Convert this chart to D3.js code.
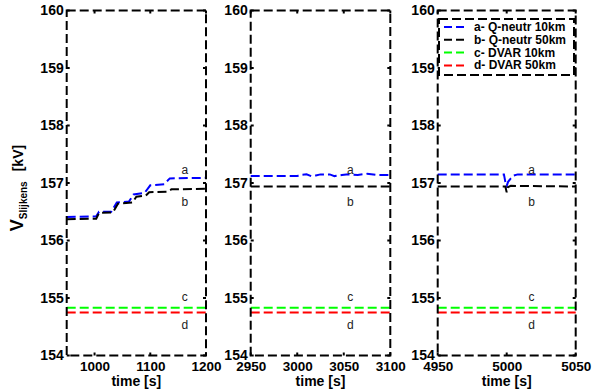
<!DOCTYPE html>
<html><head><meta charset="utf-8">
<script src="https://cdn.jsdelivr.net/npm/d3@7"></script>
<style>body{margin:0;background:#fff}svg{display:block}</style>
</head><body>
<script>
// ---- data ----
const yDomain = [154, 160];
const yTicks = [154, 155, 156, 157, 158, 159, 160];
const panelDomains = [[950, 1200], [2950, 3100], [4950, 5050]];
const panelTicks = [[1000, 1100, 1200], [2950, 3000, 3050, 3100], [4950, 5000, 5050]];
const seriesNames = ["a- Q-neutr 10km", "b- Q-neutr 50km", "c- DVAR 10km", "d- DVAR 50km"];
const seriesColors = ["#0000ff", "#000000", "#00ff00", "#ff0000"];
// panel 1 (t, V)
const p1a = [[950,156.41],[1003,156.42],[1008,156.50],[1030,156.50],[1040,156.66],[1062,156.68],[1070,156.80],[1090,156.83],[1100,156.96],[1125,156.98],[1135,157.08],[1200,157.09]];
const p1b = [[950,156.37],[1003,156.38],[1008,156.48],[1033,156.49],[1042,156.64],[1068,156.66],[1075,156.76],[1092,156.78],[1098,156.84],[1130,156.85],[1138,156.89],[1200,156.90]];
const p1c = [[950,154.83],[1200,154.83]];
const p1d = [[950,154.75],[1200,154.75]];
// panel 2
const p2a = [[2950,157.12],[3000,157.12],[3003,157.14],[3010,157.15],[3015,157.12],[3020,157.13],[3025,157.15],[3035,157.15],[3040,157.12],[3048,157.14],[3055,157.15],[3065,157.14],[3075,157.16],[3085,157.14],[3100,157.14]];
const p2b = [[2950,156.94],[3100,156.94]];
const p2c = [[2950,154.83],[3100,154.83]];
const p2d = [[2950,154.75],[3100,154.75]];
// panel 3
const p3a = [[4950,157.15],[4998,157.15],[4999,157.02],[5000,156.95],[5001,157.02],[5003,157.08],[5005,157.13],[5008,157.15],[5050,157.15]];
const p3b = [[4950,156.94],[4999,156.94],[5000,156.84],[5001,156.93],[5003,156.95],[5050,156.94]];
const p3c = [[4950,154.83],[5050,154.83]];
const p3d = [[4950,154.75],[5050,154.75]];
const panelSeries = [[p1a,p1b,p1c,p1d],[p2a,p2b,p2c,p2d],[p3a,p3b,p3c,p3d]];
// text annotations per panel
const annotLetters = ["a","b","c","d"];
const annotT = [1162, 3057, 5018];
const annotV = [157.23, 156.67, 155.02, 154.53];

// ---- layout ----
const W = 598, H = 391;
const plotTop = 10.5, plotBottom = 355.5;
const panelX = [[66.7, 206], [250.7, 390.3], [437.7, 575.7]];
const dash = "9,4";

const svg = d3.select("body").append("svg").attr("width", W).attr("height", H)
  .style("font-family", "Arial, 'Liberation Sans', Helvetica, sans-serif");

const y = d3.scaleLinear().domain(yDomain).range([plotBottom, plotTop]);

panelDomains.forEach((dom, i) => {
  const x = d3.scaleLinear().domain(dom).range(panelX[i]);
  const g = svg.append("g");
  const line = d3.line().x(d => x(d[0])).y(d => y(d[1]));
  panelSeries[i].forEach((s, k) => {
    g.append("path").attr("d", line(s)).attr("fill", "none")
      .attr("stroke", seriesColors[k]).attr("stroke-width", 2)
      .attr("stroke-dasharray", dash);
  });
  annotLetters.forEach((l, k) => {
    g.append("text").attr("x", x(annotT[i])).attr("y", y(annotV[k]))
      .attr("text-anchor", "middle").attr("dominant-baseline", "central")
      .attr("font-size", 12).attr("fill", "#222").text(l);
  });
  const xb = d3.axisBottom(x).tickValues(panelTicks[i]).tickSize(0).tickPadding(6).tickFormat(d3.format("d"));
  const yAx = d3.axisLeft(y).tickValues(yTicks).tickSize(0).tickPadding(3).tickFormat(d3.format("d"));
  const ax = g.append("g").attr("transform", `translate(0,${plotBottom})`).call(xb);
  const ay = g.append("g").attr("transform", `translate(${panelX[i][0]},0)`).call(yAx);
  [ax, ay].forEach(a => {
    a.select(".domain").remove();
    a.selectAll("text").attr("font-size", 14).attr("font-weight", "bold").attr("fill", "#000")
      .style("font-family", "Arial, 'Liberation Sans', sans-serif");
  });
  ax.selectAll("text").attr("font-size", 13.5).attr("dy", "0.71em");
  ay.selectAll("text").attr("dy", "0.3em");
  const tl = 3;
  panelTicks[i].forEach(t => {
    [[plotBottom, -tl], [plotTop, tl]].forEach(([yy, d]) => {
      g.append("line").attr("x1", x(t)).attr("x2", x(t)).attr("y1", yy).attr("y2", yy + d)
        .attr("stroke", "#000").attr("stroke-width", 2);
    });
  });
  yTicks.forEach(t => {
    [[panelX[i][0], tl], [panelX[i][1], -tl]].forEach(([xx, d]) => {
      g.append("line").attr("x1", xx).attr("x2", xx + d).attr("y1", y(t)).attr("y2", y(t))
        .attr("stroke", "#000").attr("stroke-width", 2);
    });
  });
  g.append("rect").attr("x", panelX[i][0]).attr("y", plotTop)
    .attr("width", panelX[i][1] - panelX[i][0]).attr("height", plotBottom - plotTop)
    .attr("fill", "none").attr("stroke", "#000").attr("stroke-width", 2)
    .attr("stroke-dasharray", dash);
  g.append("text").attr("x", (panelX[i][0] + panelX[i][1]) / 2).attr("y", 386)
    .attr("text-anchor", "middle").attr("font-size", 14).attr("font-weight", "bold")
    .text("time [s]");
});

// y label
const ylab = svg.append("text").attr("transform", "translate(23,188) rotate(-90)")
  .attr("text-anchor", "middle").attr("font-weight", "bold");
ylab.append("tspan").attr("font-size", 18).text("V");
ylab.append("tspan").attr("font-size", 10).attr("dy", 4).text("Slijkens");
ylab.append("tspan").attr("font-size", 14).attr("dy", -4).attr("dx", 10).text("[kV]");

// legend
const lx = 439, ly = 19, lw = 135, lh = 56;
const lg = svg.append("g");
lg.append("rect").attr("x", lx).attr("y", ly).attr("width", lw).attr("height", lh)
  .attr("fill", "#fff").attr("stroke", "#000").attr("stroke-width", 2).attr("stroke-dasharray", dash);
seriesNames.forEach((n, k) => {
  const yy = ly + 8 + k * 12.8;
  lg.append("line").attr("x1", lx + 5).attr("x2", lx + 29).attr("y1", yy).attr("y2", yy)
    .attr("stroke", seriesColors[k]).attr("stroke-width", 2).attr("stroke-dasharray", "8,4");
  lg.append("text").attr("x", lx + 35).attr("y", yy).attr("dominant-baseline", "central")
    .attr("font-size", 12).attr("font-weight", "bold").text(n);
});
</script>
</body></html>
